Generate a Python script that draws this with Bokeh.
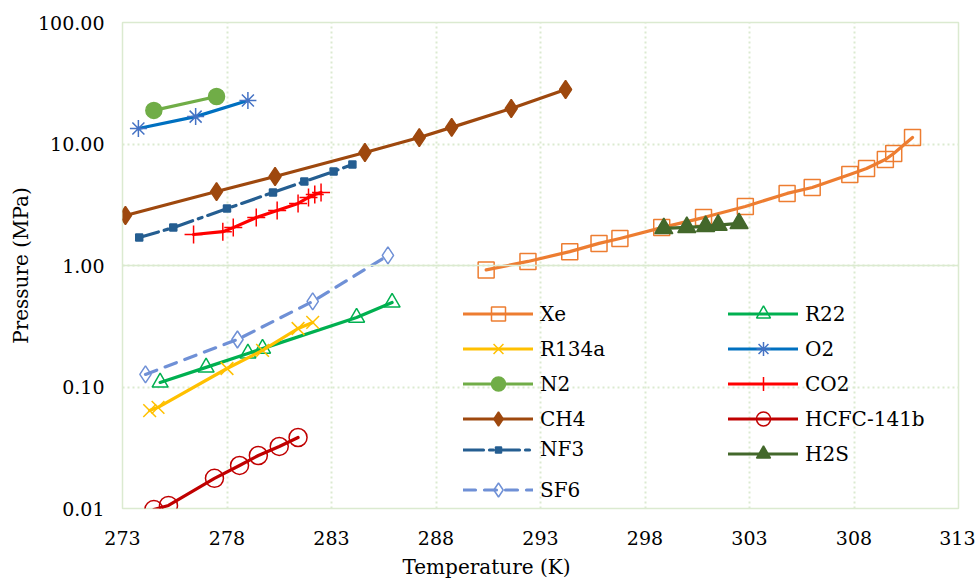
from bokeh.plotting import figure
from bokeh.models import (Range1d, FixedTicker, PrintfTickFormatter, Legend, LegendItem, Span, Title)
from bokeh.embed import file_html
from bokeh.resources import INLINE

# ---- data (temperature K, pressure MPa) ----
xe_t = [290.4, 292.4, 294.4, 295.8, 296.8, 298.8, 300.8, 302.8, 304.8, 306.0, 307.8, 308.6, 309.5, 309.9, 310.8]
xe_p = [0.92, 1.08, 1.30, 1.52, 1.67, 2.05, 2.48, 3.06, 3.92, 4.39, 5.61, 6.29, 7.45, 8.36, 11.3]

r22_t = [274.8, 277.0, 279.0, 279.7, 284.2, 285.9]
r22_p = [0.109, 0.145, 0.189, 0.207, 0.373, 0.496]

r134a_t = [274.3, 274.7, 278.0, 279.7, 281.4, 282.1]
r134a_p = [0.064, 0.068, 0.142, 0.200, 0.303, 0.340]

o2_t = [273.76, 276.5, 279.0]
o2_p = [13.4, 16.8, 22.8]

n2_t = [274.5, 277.5]
n2_p = [18.9, 24.6]

co2_t = [276.4, 277.8, 278.3, 279.4, 280.4, 281.4, 281.9, 282.2, 282.5]
co2_p = [1.80, 1.90, 2.05, 2.48, 2.84, 3.24, 3.63, 3.84, 3.99]

ch4_t = [273.14, 277.5, 280.3, 284.6, 287.2, 288.75, 291.6, 294.2]
ch4_p = [2.58, 4.06, 5.40, 8.51, 11.3, 13.7, 19.6, 28.1]

hcfc_t = [274.5, 275.2, 277.4, 278.6, 279.5, 280.5, 281.4]
hcfc_p = [0.0098, 0.0106, 0.0177, 0.0226, 0.0273, 0.0324, 0.0384]

nf3_t = [273.8, 275.43, 278.0, 280.2, 281.7, 283.1, 284.0]
nf3_p = [1.70, 2.05, 2.94, 3.99, 4.91, 5.94, 6.78]

h2s_t = [298.9, 300.0, 300.9, 301.5, 302.5]
h2s_p = [2.02, 2.06, 2.10, 2.15, 2.22]

sf6_t = [274.1, 278.5, 282.1, 285.7]
sf6_p = [0.127, 0.246, 0.506, 1.21]

x_ticks = [273, 278, 283, 288, 293, 298, 303, 308, 313]
y_ticks = [0.01, 0.1, 1, 10, 100]
x_title = "Temperature (K)"
y_title = "Pressure (MPa)"

FONT = "DejaVu Serif"
GRID = "#dbead0"

p = figure(width=975, height=587, output_backend="svg", toolbar_location=None,
           y_axis_type="log", x_range=Range1d(273, 313), y_range=Range1d(0.01, 100),
           min_border_left=122, min_border_right=17, min_border_top=22, min_border_bottom=79)
p.background_fill_color = "white"
p.border_fill_color = "white"
p.outline_line_color = GRID
p.outline_line_width = 1.5

p.xaxis.ticker = FixedTicker(ticks=x_ticks)
p.yaxis.ticker = FixedTicker(ticks=y_ticks)
p.yaxis.formatter = PrintfTickFormatter(format="%.2f")
for ax in (p.xaxis, p.yaxis):
    ax.axis_line_color = None
    ax.major_tick_line_color = None
    ax.minor_tick_line_color = None
    ax.major_tick_out = 0
    ax.major_label_text_font = FONT
    ax.major_label_text_font_size = "19px"
    ax.major_label_text_color = "black"
    ax.axis_label_text_font = FONT
    ax.axis_label_text_font_size = "20px"
    ax.axis_label_text_font_style = "normal"
    ax.axis_label_text_color = "black"
p.yaxis.axis_label = y_title
p.xaxis.major_label_standoff = 22
p.yaxis.major_label_standoff = 18
p.yaxis.axis_label_standoff = 2

# x-axis title sits left of the frame centre in the reference
p.add_layout(Title(text=x_title, align="left", offset=280, standoff=10,
                   text_font=FONT, text_font_size="20px", text_font_style="normal",
                   text_color="black"), "below")

for g in (p.xgrid, p.ygrid):
    g.grid_line_color = GRID
    g.grid_line_width = 2
    g.grid_line_dash = "2 3"

p.add_layout(Span(location=1, dimension="width", line_color=GRID, line_width=1.5))

items = {}

def series(name, t, pr, color, marker, size, mcolor=None, fill=None, lw=3.2, dash="solid", mlw=1.5):
    mc = mcolor or color
    lr = p.line(t, pr, line_color=color, line_width=lw, line_dash=dash, line_cap="round", line_join="round")
    sr = p.scatter(t, pr, marker=marker, size=size, line_color=mc, line_width=mlw,
                   fill_color=fill, fill_alpha=1 if fill else 0)
    items[name] = LegendItem(label=name, renderers=[lr, sr])

series("Xe", xe_t, xe_p, "#ED7D31", "square", 16)
series("R22", r22_t, r22_p, "#00B050", "triangle", 16)
series("R134a", r134a_t, r134a_p, "#FFC000", "x", 18)
series("O2", o2_t, o2_p, "#0070C0", "asterisk", 17, mcolor="#4472C4")
series("N2", n2_t, n2_p, "#70AD47", "circle", 16, fill="#70AD47")
series("CO2", co2_t, co2_p, "#FF0000", "cross", 18)
series("CH4", ch4_t, ch4_p, "#9E480E", "diamond", 18, fill="#9E480E")
series("HCFC-141b", hcfc_t, hcfc_p, "#C00000", "circle", 18)
series("NF3", nf3_t, nf3_p, "#255E91", "square", 7, fill="#255E91", dash="20 6 4 6")
series("H2S", h2s_t, h2s_p, "#43682B", "triangle", 18, fill="#43682B")
series("SF6", sf6_t, sf6_p, "#6F90D6", "diamond", 17, dash="12 9")

def make_legend(names, loc, gh=35):
    lg = Legend(items=[items[n] for n in names], location=loc, orientation="vertical",
                glyph_width=70, glyph_height=gh, label_height=gh, spacing=0, padding=0, margin=0,
                label_standoff=7, label_text_font=FONT, label_text_font_size="20px",
                label_text_color="black", background_fill_alpha=0, border_line_alpha=0,
                label_text_baseline="middle")
    p.add_layout(lg)

make_legend(["Xe", "R134a", "N2", "CH4"], (341, 72))
make_legend(["NF3"], (341, 47), gh=15)
make_legend(["SF6"], (341, 1))
make_legend(["R22", "O2", "CO2", "HCFC-141b", "H2S"], (606, 37))

open("out.html", "w").write(file_html(p, INLINE))
